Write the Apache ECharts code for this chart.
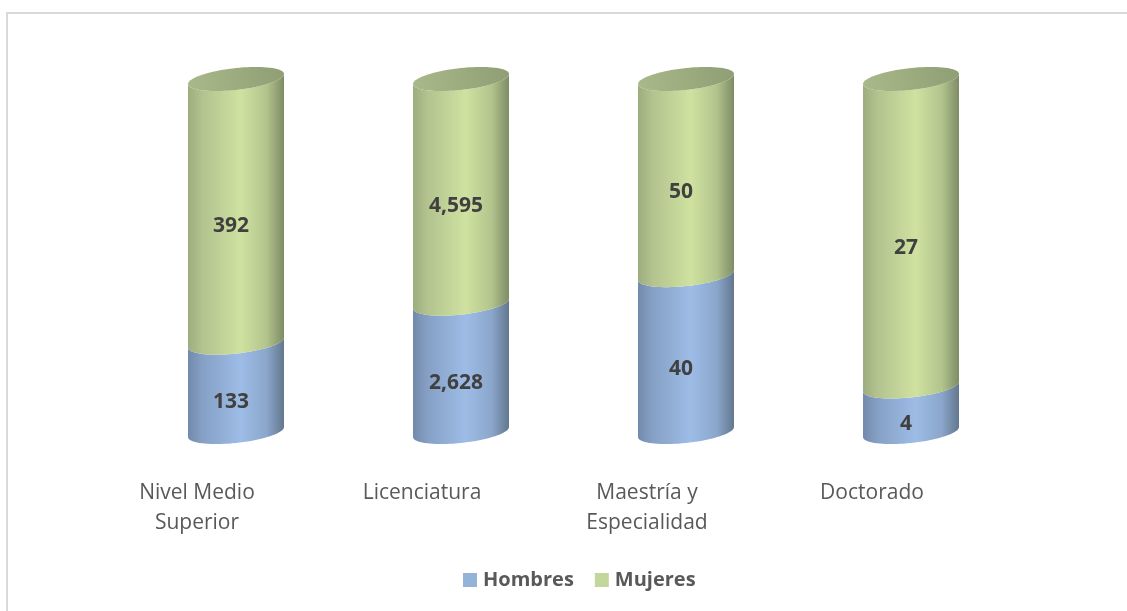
<!DOCTYPE html>
<html>
<head>
<meta charset="utf-8">
<style>
  html, body { margin: 0; padding: 0; background: #fff; }
  #chart { width: 1127px; height: 611px; }
</style>
<script src="https://cdn.jsdelivr.net/npm/echarts@6/dist/echarts.min.js"></script>
</head>
<body>
<div id="chart"></div>
<script>
var categories = ["Nivel Medio\nSuperior", "Licenciatura", "Maestría y\nEspecialidad", "Doctorado"];
var hombres = [133, 2628, 40, 4];
var mujeres = [392, 4595, 50, 27];

var myCharts = echarts.init(document.getElementById("chart"));

// 100% stack, each column goes from 0 to 1
function share(list, i) {
  return list[i] / (hombres[i] + mujeres[i]);
}

// lower half of the tilted ellipse, left to right
function lowerCurve(cx, cy, a) {
  var pts = [];
  for (var k = 0; k <= 40; k++) {
    var t = Math.PI - (Math.PI * k) / 40;
    pts.push([cx + a * Math.cos(t), cy + 11 * Math.sin(t) - 5 * Math.cos(t)]);
  }
  return pts;
}

function fullEllipse(cx, cy, a) {
  var pts = [];
  for (var k = 0; k < 80; k++) {
    var t = (Math.PI * 2 * k) / 80;
    pts.push([cx + a * Math.cos(t), cy + 11 * Math.sin(t) - 5 * Math.cos(t)]);
  }
  return pts;
}

function makeRender(isTop, stops, capStops) {
  return function (params, api) {
    var i = api.value(0);
    var from = isTop ? share(hombres, i) : 0;
    var to = from + share(isTop ? mujeres : hombres, i);
    var p0 = api.coord([i, from]);
    var p1 = api.coord([i, to]);
    var a = api.size([1, 0])[0] * 0.2133;
    var cx = p0[0];
    var body = lowerCurve(cx, p0[1], a).concat(lowerCurve(cx, p1[1], a).reverse());
    var children = [
      {
        type: "polygon",
        shape: { points: body },
        style: { fill: new echarts.graphic.LinearGradient(0, 0, 1, 0, stops) }
      }
    ];
    if (isTop) {
      children.push({
        type: "polygon",
        shape: { points: fullEllipse(cx, p1[1], a) },
        style: { fill: new echarts.graphic.LinearGradient(0, 1, 1, 0, capStops) }
      });
    }
    children.push({
      type: "text",
      style: {
        text: api.value(1).toLocaleString("en-US"),
        x: cx - 5,
        y: (p0[1] + p1[1]) / 2 + 15,
        align: "center",
        verticalAlign: "middle",
        fill: "#404040",
        font: 'bold 21px "Open Sans"'
      }
    });
    return { type: "group", children: children };
  };
}

var blueStops = [
  { offset: 0, color: "#728aab" },
  { offset: 0.15, color: "#86a0c5" },
  { offset: 0.55, color: "#9dbce6" },
  { offset: 0.82, color: "#8ba6cb" },
  { offset: 1, color: "#63788f" }
];
var greenStops = [
  { offset: 0, color: "#9dad7e" },
  { offset: 0.15, color: "#b2c38f" },
  { offset: 0.55, color: "#cfe2a0" },
  { offset: 0.82, color: "#b2c48c" },
  { offset: 1, color: "#7e8c66" }
];
var capStops = [
  { offset: 0, color: "#a9b98a" },
  { offset: 0.5, color: "#9dac7f" },
  { offset: 1, color: "#8f9e73" }
];

myCharts.setOption({
  animation: false,
  backgroundColor: "#fff",
  graphic: [
    {
      type: "rect",
      shape: { x: 7, y: 13, width: 1200, height: 700 },
      style: { fill: "none", stroke: "#d9d9d9", lineWidth: 2 },
      silent: true
    }
  ],
  grid: { left: 123.5, right: 103.5, top: 79, bottom: 179 },
  legend: {
    left: 458,
    top: 565,
    itemWidth: 14,
    itemHeight: 14,
    itemGap: 21,
    icon: "rect",
    textStyle: { color: "#595959", fontSize: 20, fontWeight: "bold", fontFamily: "Open Sans", padding: [0, 0, 0, 1] },
    data: ["Hombres", "Mujeres"]
  },
  xAxis: {
    type: "category",
    data: categories,
    axisLine: { show: false },
    axisTick: { show: false },
    axisLabel: {
      interval: 0,
      margin: 46,
      color: "#595959",
      fontSize: 21,
      lineHeight: 30,
      fontFamily: "Open Sans",
      padding: [0, 78, 0, 0]
    }
  },
  yAxis: { type: "value", min: 0, max: 1, show: false },
  series: [
    {
      name: "Hombres",
      type: "custom",
      renderItem: makeRender(false, blueStops),
      itemStyle: { color: "#94b3d9" },
      data: hombres.map(function (v, i) { return [i, v]; })
    },
    {
      name: "Mujeres",
      type: "custom",
      renderItem: makeRender(true, greenStops, capStops),
      itemStyle: { color: "#c3d69b" },
      data: mujeres.map(function (v, i) { return [i, v]; })
    }
  ]
});
</script>
</body>
</html>
